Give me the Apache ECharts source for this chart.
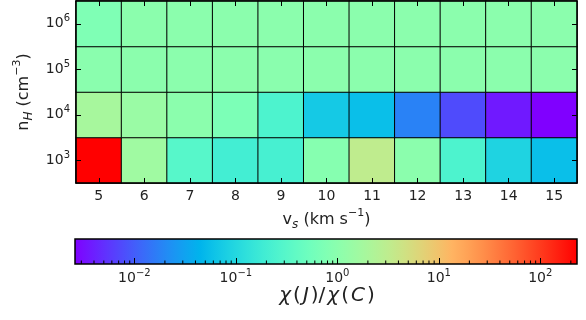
<!DOCTYPE html>
<html>
<head>
<meta charset="utf-8">
<script src="https://cdn.jsdelivr.net/npm/echarts@6/dist/echarts.min.js"></script>
<style>
  html, body { margin: 0; padding: 0; background: #fff; }
  #chart { width: 586px; height: 320px; }
</style>
</head>
<body>
<div id="chart"></div>
<script>
// shock velocity (km/s) along x, density n_H along y (as powers of ten)
var vsCats = ['5', '6', '7', '8', '9', '10', '11', '12', '13', '14', '15']
var nhExponents = ['3', '4', '5', '6']

// chi(J)/chi(C), one array per density row
var ratioN1e3 = [230, 1.6, 0.31, 0.2, 0.22, 0.9, 3.2, 1.0, 0.25, 0.089, 0.056]
var ratioN1e4 = [1.9, 1.4, 1.0, 0.7, 0.25, 0.071, 0.056, 0.018, 0.0077, 0.0037, 0.0026]
var ratioN1e5 = [0.97, 1.0, 1.0, 1.0, 0.98, 1.0, 1.0, 1.0, 1.0, 1.0, 1.0]
var ratioN1e6 = [0.75, 1.0, 1.0, 1.0, 1.0, 1.0, 1.0, 1.0, 1.0, 1.0, 1.0]

// colour bar limits
var cbMin = 0.0026
var cbMax = 230

var FONT = 'DejaVu Sans'
var TXT = '#222'

// matplotlib "rainbow" colormap
function rainbow(t) {
	var r = Math.min(1, Math.abs(2 * t - 0.5))
	var g = Math.sin(Math.PI * t)
	var b = Math.cos(Math.PI * t / 2)
	return 'rgb(' + Math.round(r * 255) + ',' + Math.round(g * 255) + ',' + Math.round(Math.max(0, b) * 255) + ')'
}
var nStops = 33
var cmapColors = []
var gradStops = []
for (var i = 0; i < nStops; i++) {
	var t = i / (nStops - 1)
	cmapColors.push(rainbow(t))
	gradStops.push({ offset: t, color: rainbow(t) })
}

var rows = [ratioN1e3, ratioN1e4, ratioN1e5, ratioN1e6]
var heatData = []
rows.forEach(function (row, yi) {
	row.forEach(function (v, xi) {
		heatData.push([xi, yi, Math.log10(v)])
	})
})

// minor ticks of the log colour bar (2..9 x 10^k)
var minorTicks = []
for (var e = -3; e <= 2; e++) {
	for (var k = 2; k <= 9; k++) {
		var mv = k * Math.pow(10, e)
		if (mv > cbMin && mv < cbMax) minorTicks.push([mv, 0])
	}
}

// rich styles for "10^n" tick labels
var powRich = {
	b: { fontSize: 14, lineHeight: 20, verticalAlign: 'middle', color: TXT, fontFamily: FONT },
	s: { fontSize: 10, lineHeight: 10, verticalAlign: 'top', color: TXT, fontFamily: FONT }
}
// rich styles for axis titles with sub / superscripts
var nameRich = {
	m: { fontSize: 16, lineHeight: 23, verticalAlign: 'middle', color: TXT, fontFamily: FONT },
	sb: { fontSize: 12, lineHeight: 18, verticalAlign: 'bottom', fontStyle: 'italic', color: TXT, fontFamily: FONT },
	sp: { fontSize: 11, lineHeight: 11, verticalAlign: 'top', color: TXT, fontFamily: FONT }
}

var chart = echarts.init(document.getElementById('chart'), null, { renderer: 'canvas' })

var tickStyle = { show: true, inside: true, alignWithLabel: true, length: 5, lineStyle: { color: '#000', width: 1 } }
var frameLine = { show: true, lineStyle: { color: '#000', width: 1.5 } }

chart.setOption({
	animation: false,
	textStyle: { fontFamily: FONT },
	grid: [
		{ left: 76, top: 1, width: 501, height: 182, containLabel: false },
		{ left: 75, top: 239, width: 502, height: 25, show: true, borderColor: '#000', borderWidth: 1.5,
			backgroundColor: new echarts.graphic.LinearGradient(0, 0, 1, 0, gradStops) }
	],
	visualMap: {
		type: 'continuous',
		show: false,
		seriesIndex: 0,
		dimension: 2,
		min: Math.log10(cbMin),
		max: Math.log10(cbMax),
		inRange: { color: cmapColors }
	},
	xAxis: [
		{
			gridIndex: 0, type: 'category', data: vsCats, position: 'bottom', z: 10,
			axisLine: frameLine, axisTick: tickStyle, splitLine: { show: false },
			axisLabel: { color: TXT, fontSize: 14, margin: 6, fontFamily: FONT },
			name: '{m|v}{sb|s}{m| (km s}{sp|−1}{m|)}', nameLocation: 'middle', nameGap: 19,
			nameTextStyle: { color: TXT, fontFamily: FONT, rich: nameRich }
		},
		{
			gridIndex: 0, type: 'category', data: vsCats, position: 'top', z: 10,
			axisLine: frameLine, axisTick: tickStyle, axisLabel: { show: false }, splitLine: { show: false }
		},
		{
			gridIndex: 1, type: 'log', logBase: 10, min: cbMin, max: cbMax, position: 'bottom', z: 10,
			axisLine: { show: false }, splitLine: { show: false },
			axisTick: { show: true, inside: true, length: 6, lineStyle: { color: '#000', width: 1 } },
			minorTick: { show: false },
			axisLabel: {
				color: TXT, margin: 4, fontFamily: FONT, showMinLabel: false, showMaxLabel: false,
				rich: powRich,
				formatter: function (v) {
					var ex = Math.log10(v)
					if (Math.abs(ex - Math.round(ex)) > 1e-6) return ''
					var n = Math.round(ex)
					return '{b|10}{s|' + (n < 0 ? '−' + (-n) : n) + '}'
				}
			},
			name: '{i|χ}{u|(}{i|J}{u|)/}{i|χ}{u|(}{i|C}{u|)}', nameLocation: 'middle', nameGap: 22,
			nameTextStyle: {
				color: TXT, fontFamily: FONT,
				rich: {
					i: { fontSize: 20, fontStyle: 'italic', padding: [0, 2, 0, 2], color: TXT, fontFamily: FONT },
					u: { fontSize: 20, color: TXT, fontFamily: FONT }
				}
			}
		}
	],
	yAxis: [
		{
			gridIndex: 0, type: 'category', data: nhExponents, position: 'left', z: 10,
			axisLine: frameLine, axisTick: tickStyle, splitLine: { show: false },
			axisLabel: {
				margin: 6, fontFamily: FONT, rich: powRich,
				formatter: function (v) { return '{b|10}{s|' + v + '}' }
			},
			name: '{m|n}{sb|H}{m| (cm}{sp|−3}{m|)}', nameLocation: 'middle', nameGap: 34, nameRotate: 90,
			nameTextStyle: { color: TXT, fontFamily: FONT, rich: nameRich }
		},
		{
			gridIndex: 0, type: 'category', data: nhExponents, position: 'right', z: 10,
			axisLine: frameLine, axisTick: tickStyle, axisLabel: { show: false }, splitLine: { show: false }
		},
		{
			gridIndex: 1, type: 'value', min: 0, max: 1, show: false
		}
	],
	series: [
		{
			type: 'heatmap',
			xAxisIndex: 0,
			yAxisIndex: 0,
			data: heatData,
			itemStyle: { borderColor: '#000', borderWidth: 1 },
			emphasis: { disabled: true }
		},
		{
			// minor ticks drawn on the colour bar
			type: 'custom',
			xAxisIndex: 2,
			yAxisIndex: 2,
			z: 10,
			silent: true,
			data: minorTicks,
			renderItem: function (params, api) {
				var p = api.coord([api.value(0), 0])
				return {
					type: 'line',
					shape: { x1: p[0], y1: p[1], x2: p[0], y2: p[1] - 3.5 },
					style: { stroke: '#000', lineWidth: 1 }
				}
			}
		}
	]
})
</script>
</body>
</html>
